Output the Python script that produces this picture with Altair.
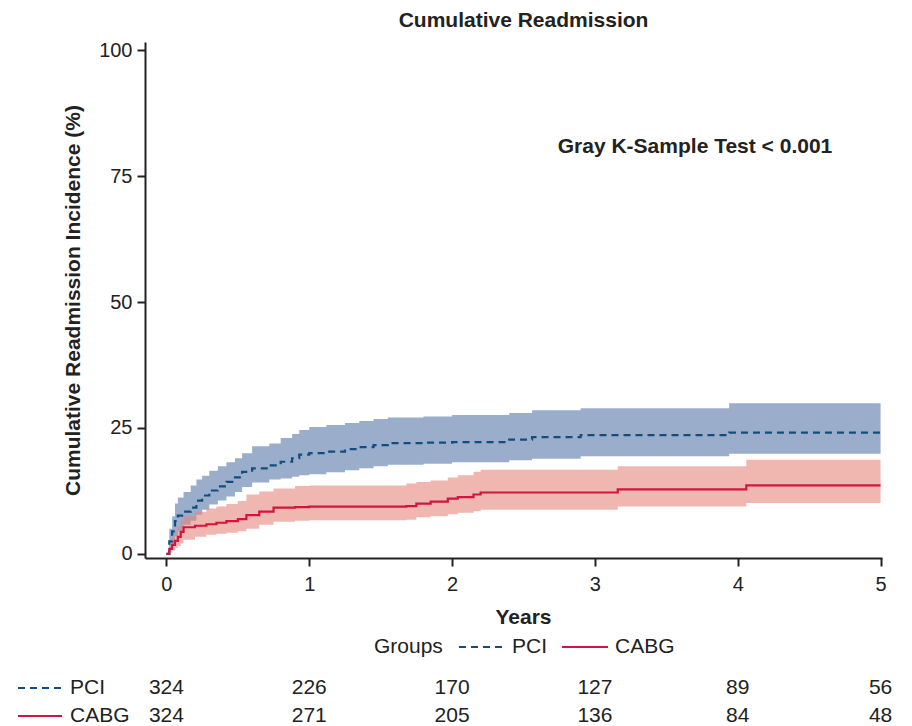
import altair as alt
import pandas as pd

# ---------------- data ----------------
groups = ["PCI", "CABG"]

pci_t   = [0, 0.02, 0.04, 0.06, 0.08, 0.12, 0.17, 0.21, 0.25, 0.30, 0.36, 0.42, 0.48, 0.53, 0.60, 0.72, 0.80, 0.88, 0.93, 1.00, 1.12, 1.25, 1.35, 1.45, 1.55, 1.80, 2.00, 2.40, 2.56, 2.90, 3.94, 5.00]
pci_est = [0, 2.5, 4.5, 6.5, 7.6, 8.4, 9.2, 10.6, 11.6, 12.6, 13.4, 14.3, 15.2, 16.3, 17.0, 17.6, 18.3, 19.0, 19.7, 20.0, 20.3, 20.8, 21.2, 21.6, 22.0, 22.1, 22.2, 22.7, 23.2, 23.6, 24.1, 24.1]
pci_lo  = [0, 0.8, 1.8, 3.5, 4.5, 5.8, 6.6, 7.8, 8.8, 9.8, 10.6, 11.4, 12.3, 13.3, 14.2, 14.8, 15.0, 15.3, 15.6, 15.8, 16.2, 16.6, 17.0, 17.4, 17.7, 17.9, 18.2, 18.6, 18.9, 19.4, 19.9, 19.9]
pci_hi  = [0, 5.0, 7.5, 10.0, 11.2, 12.3, 13.6, 14.8, 15.5, 16.5, 17.4, 18.2, 19.0, 20.0, 21.4, 21.9, 23.0, 23.8, 24.6, 25.2, 25.6, 26.0, 26.4, 26.8, 27.1, 27.3, 27.6, 28.0, 28.5, 28.9, 29.9, 29.9]

cabg_t   = [0, 0.02, 0.04, 0.06, 0.08, 0.10, 0.12, 0.20, 0.28, 0.35, 0.42, 0.50, 0.56, 0.65, 0.75, 0.90, 1.00, 1.68, 1.75, 1.85, 1.97, 2.04, 2.15, 2.20, 3.16, 4.06, 5.00]
cabg_est = [0, 1.0, 1.8, 2.6, 3.4, 4.4, 5.3, 5.6, 5.9, 6.2, 6.5, 6.9, 7.7, 8.4, 9.2, 9.3, 9.4, 9.5, 10.0, 10.4, 11.0, 11.3, 11.8, 12.2, 12.8, 13.6, 13.6]
cabg_lo  = [0, 0.3, 0.7, 1.2, 1.6, 2.1, 2.8, 3.4, 3.8, 4.0, 4.2, 4.5, 5.0, 5.8, 6.4, 6.6, 6.7, 6.8, 7.3, 7.5, 7.9, 8.2, 8.5, 8.8, 9.4, 10.1, 10.1]
cabg_hi  = [0, 2.0, 3.4, 4.5, 5.6, 6.6, 7.6, 8.4, 9.0, 9.4, 9.9, 10.5, 11.8, 12.4, 13.0, 13.5, 13.6, 14.0, 14.3, 14.6, 15.2, 15.6, 16.3, 16.7, 17.4, 18.7, 18.7]

risk_times = [0, 1, 2, 3, 4, 5]
risk_pci   = [324, 226, 170, 127, 89, 56]
risk_cabg  = [324, 271, 205, 136, 84, 48]

annotation_text = "Gray K-Sample Test < 0.001"
legend_title = "Groups"

# ---------------- tables ----------------
curve = pd.concat([
    pd.DataFrame({"group": "PCI", "t": pci_t, "est": pci_est, "lo": pci_lo, "hi": pci_hi}),
    pd.DataFrame({"group": "CABG", "t": cabg_t, "est": cabg_est, "lo": cabg_lo, "hi": cabg_hi}),
], ignore_index=True)
risk = pd.DataFrame({"t": risk_times, "PCI": risk_pci, "CABG": risk_cabg})

FONT = "Liberation Sans"
TXT = "#222222"
FS = 21
line_colors = ["#124d7e", "#d21440"]
band_colors = ["#5778aa", "#e6857b"]
dashes = {"PCI": [7, 5], "CABG": [1, 0]}

xs = alt.Scale(domain=[-0.15, 5.01], nice=False, zero=False)
ys = alt.Scale(domain=[-0.8, 101.6], nice=False, zero=False)

base = alt.Chart(curve)

bands = base.mark_area(interpolate="step-after", opacity=0.6).encode(
    x=alt.X("t:Q", scale=xs,
            axis=alt.Axis(values=[0, 1, 2, 3, 4, 5], title="Years", format="d",
                          titleX=378, titleY=59, titleBaseline="middle",
                          titleFontSize=FS, titleFontWeight="bold", labelPadding=8)),
    y=alt.Y("lo:Q", scale=ys,
            axis=alt.Axis(values=[0, 25, 50, 75, 100],
                          title="Cumulative Readmission Incidence (%)",
                          titleX=-72, titleY=258, titleAngle=270, titleAlign="center",
                          titleBaseline="middle", titleFontSize=FS, titleFontWeight="bold")),
    y2="hi:Q",
    fill=alt.Fill("group:N", scale=alt.Scale(domain=groups, range=band_colors), legend=None),
    detail="group:N",
)

lines = base.mark_line(interpolate="step-after", strokeWidth=2.2).encode(
    x=alt.X("t:Q", scale=xs),
    y=alt.Y("est:Q", scale=ys),
    color=alt.Color("group:N", scale=alt.Scale(domain=groups, range=line_colors), legend=None),
    strokeDash=alt.StrokeDash("group:N", scale=alt.Scale(domain=groups, range=[dashes[g] for g in groups]),
                              legend=None),
)

annot = alt.Chart(pd.DataFrame({"label": [annotation_text]})).mark_text(
    font=FONT, fontSize=FS, fontWeight="bold", color=TXT, align="center", baseline="middle"
).encode(x=alt.value(550), y=alt.value(105), text="label:N")

# ---- manual legend ("Groups  - - - PCI  —— CABG") ----
LEG_Y = 605
leg_layers = [
    alt.Chart(pd.DataFrame({"s": [legend_title]})).mark_text(
        font=FONT, fontSize=FS, color=TXT, align="left", baseline="middle"
    ).encode(x=alt.value(229), y=alt.value(LEG_Y), text="s:N")
]
leg_sym_x = {"PCI": (314, 360), "CABG": (417, 463)}
for gi, g in enumerate(groups):
    x0, x1 = leg_sym_x[g]
    leg_layers.append(alt.Chart(pd.DataFrame({"g": [g]})).mark_rule(
        color=line_colors[gi], strokeWidth=2.2, strokeDash=dashes[g]
    ).encode(x=alt.value(x0), x2=alt.value(x1), y=alt.value(LEG_Y)))
    leg_layers.append(alt.Chart(pd.DataFrame({"g": [g]})).mark_text(
        font=FONT, fontSize=FS, color=TXT, align="left", baseline="middle"
    ).encode(x=alt.value(x1 + 7), y=alt.value(LEG_Y), text="g:N"))

# ---- risk table ----
rows = []
row_y = {"PCI": 646, "CABG": 674}
for gi, g in enumerate(groups):
    sym = alt.Chart(pd.DataFrame({"g": [g]})).mark_rule(
        color=line_colors[gi], strokeWidth=2.2, strokeDash=dashes[g]
    ).encode(x=alt.value(-127), x2=alt.value(-83), y=alt.value(row_y[g]))
    lab = alt.Chart(pd.DataFrame({"g": [g]})).mark_text(
        font=FONT, fontSize=FS, color=TXT, align="left", baseline="middle"
    ).encode(x=alt.value(-75), y=alt.value(row_y[g]), text="g:N")
    nums = alt.Chart(risk).mark_text(
        font=FONT, fontSize=FS, color=TXT, align="center", baseline="middle"
    ).encode(x=alt.X("t:Q", scale=xs), y=alt.value(row_y[g]), text=alt.Text(f"{g}:Q"))
    rows += [sym, lab, nums]

chart = alt.layer(bands, lines, annot, *leg_layers, *rows).properties(
    width=737, height=516,
    autosize=alt.AutoSizeParams(type="none"),
    padding={"left": 145, "top": 42, "right": 30, "bottom": 168},
    title=alt.TitleParams("Cumulative Readmission", font=FONT, fontSize=FS, fontWeight="bold",
                          color=TXT, anchor="middle", dx=10, offset=9),
).configure_view(stroke=None).configure_axis(
    labelFont=FONT, labelFontSize=20, labelColor=TXT, titleFont=FONT, titleColor=TXT,
    domainColor="#222222", domainWidth=2, tickColor="#222222", tickWidth=2, tickSize=8,
    labelPadding=5, grid=False,
)

chart.save("out.html", embed_options={"renderer": "svg", "actions": False})
